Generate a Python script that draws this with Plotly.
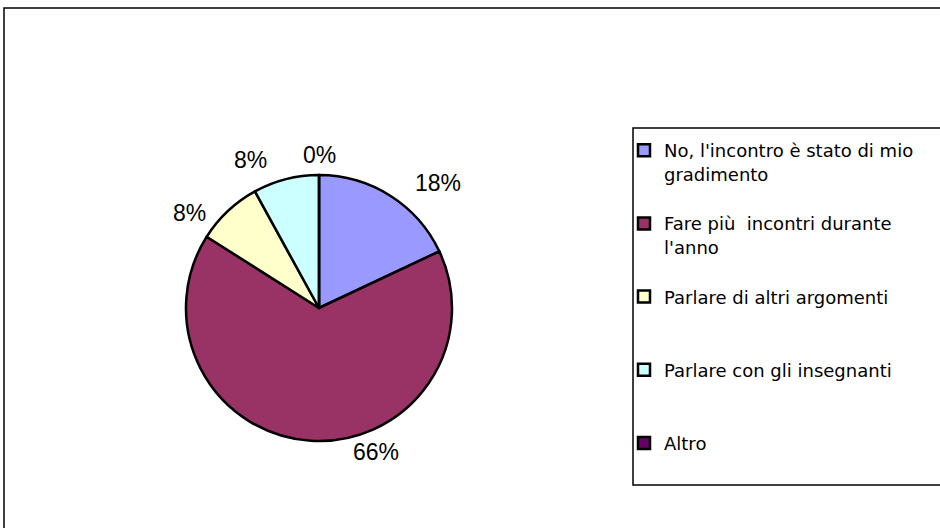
import plotly.graph_objects as go

labels = [
    "No, l'incontro è stato di mio<br>gradimento",
    "Fare più  incontri durante<br>l'anno",
    "Parlare di altri argomenti",
    "Parlare con gli insegnanti",
    "Altro",
]
values = [18, 66, 8, 8, 0]
colors = ["#9999FF", "#993366", "#FFFFCC", "#CCFFFF", "#660066"]
# trailing blank lines to mimic the spacing of the original legend
legend_pad = ["<br>", "<br>", "<br><br>", "<br><br>", "<br>"]

W, H = 940, 528
cx, cy, r = 319, 308, 133
FONT = "Liberation Sans, Arial"

# pixel positions (centre) of each slice's percentage label, as laid out in the original
label_pos = [(438, 183), (376, 452), (189, 213), (250, 160), (319, 155)]

fig = go.Figure()
fig.add_trace(go.Pie(
    labels=[l + p for l, p in zip(labels, legend_pad)],
    values=values,
    sort=False,
    direction="clockwise",
    rotation=0,
    marker=dict(colors=colors, line=dict(color="black", width=2.5)),
    textinfo="none",
    showlegend=True,
    domain=dict(x=[(cx - r) / W, (cx + r) / W], y=[(H - cy - r) / H, (H - cy + r) / H]),
    automargin=False,
))

annotations = [
    dict(text=f"{v}%", x=px / W, y=1 - py / H, xref="paper", yref="paper",
         xanchor="center", yanchor="middle", showarrow=False,
         font=dict(family=FONT, size=23, color="black"))
    for v, (px, py) in zip(values, label_pos)
]

fig.update_layout(
    width=W, height=H,
    margin=dict(l=0, r=0, t=0, b=0),
    paper_bgcolor="white",
    plot_bgcolor="white",
    font=dict(family=FONT, color="black"),
    legend=dict(
        x=624 / W, y=1 - 132 / H, xanchor="left", yanchor="top",
        font=dict(family="DejaVu Sans", size=18, color="black"),
        valign="top",
        bgcolor="rgba(0,0,0,0)",
        itemwidth=30,
    ),
    annotations=annotations,
    shapes=[
        dict(type="rect", xref="paper", yref="paper",
             x0=4 / W, x1=1.05, y0=-0.05, y1=1 - 8 / H,
             line=dict(color="black", width=1.5)),
        dict(type="rect", xref="paper", yref="paper",
             x0=633 / W, x1=1.05, y0=1 - 485 / H, y1=1 - 128 / H,
             line=dict(color="black", width=1.5)),
    ],
)

fig.write_html("out.html")
